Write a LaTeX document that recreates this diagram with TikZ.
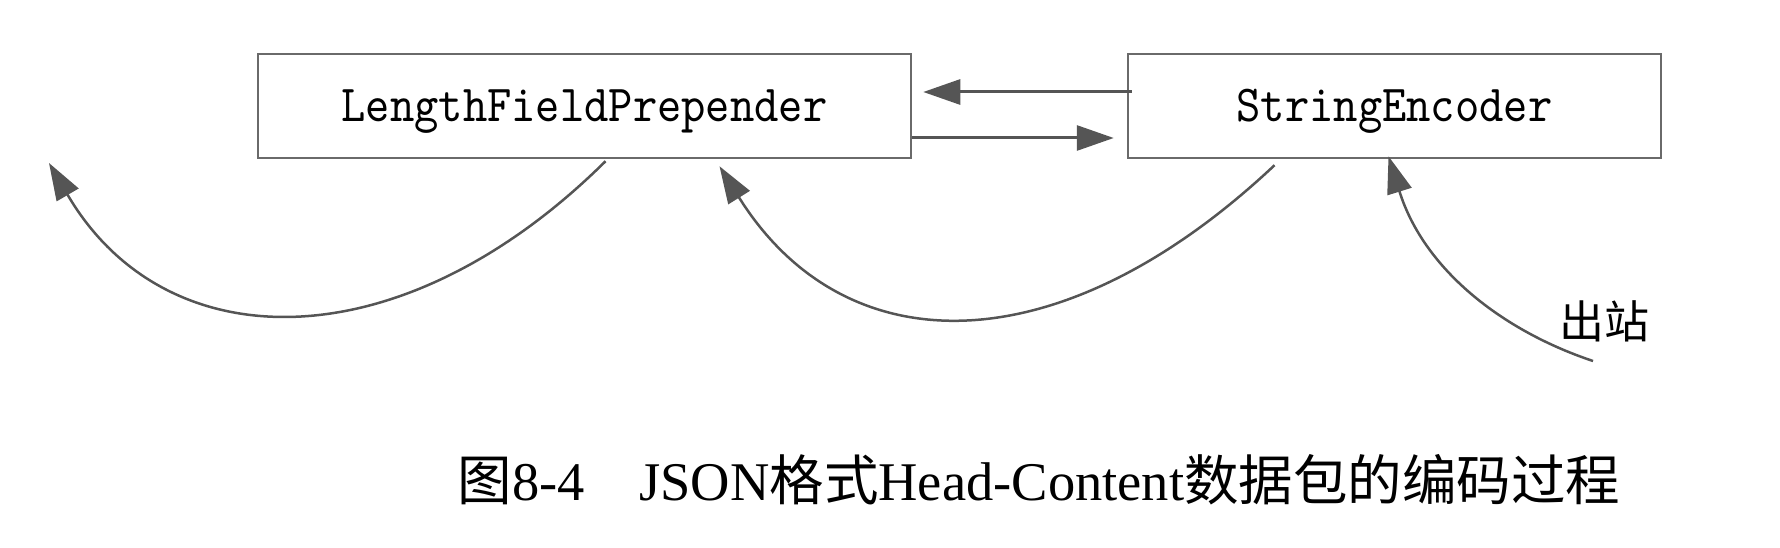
\documentclass[tikz,border=0pt]{standalone}
\usepackage{fontspec}
\setmainfont{Liberation Serif}
\setmonofont{lmmono10-regular.otf}[FakeStretch=0.89]
\newfontfamily\cjk{Noto Sans CJK SC}
\usetikzlibrary{positioning,arrows.meta}
\definecolor{boxgray}{HTML}{6A6A6A}
\definecolor{arrowgray}{HTML}{555555}
\tikzstyle{handler} = [draw=boxgray, line width=2.5pt, minimum height=104pt, inner sep=0pt, text height=36pt, text depth=4pt, font=\fontsize{52}{60}\selectfont\ttfamily]
\tikzstyle{flow} = [draw=arrowgray, line width=2.5pt, -{Triangle[length=37pt,width=25pt]}]

\begin{document}
\begin{tikzpicture}[x=1pt,y=-1pt]
			\useasboundingbox (0,0) rectangle (1780,548);
			\node[handler, minimum width=653pt] (lfp) at (584.5,106) {LengthFieldPrepender};
			\node[handler, minimum width=533pt] (se) at (1394.5,106) {StringEncoder};
			\node[anchor=base, font=\fontsize{45}{50}\selectfont\cjk] (outbound) at (1604,338) {出站};
			\node[anchor=base, font=\fontsize{54.5}{60}\selectfont] (caption) at (1039,500) {{\cjk 图}8-4\hspace{1em}JSON{\cjk 格式}Head-Content{\cjk 数据包的编码过程}};
			\coordinate (head) at (49,163);
			\coordinate (tail) at (1593,361);
			\draw[flow, line width=3pt] ([xshift=5pt,yshift=14pt]se.west) -- ([xshift=11pt,yshift=14pt]lfp.east);
			\draw[flow, line width=3pt] ([yshift=-32pt]lfp.east) -- ([xshift=-13pt,yshift=-32pt]se.west);
			\draw[flow] ([xshift=21pt,yshift=-2pt]lfp.south) .. controls (402,363) and (166,363) .. (head);
			\draw[flow] ([xshift=-120pt,yshift=-6pt]se.south) .. controls (1060,367) and (845,367) .. ([xshift=135pt,yshift=-7pt]lfp.south);
			\draw[flow] (tail) .. controls (1503,331) and (1424,270) .. ([xshift=-6pt,yshift=3pt]se.south);
		\end{tikzpicture}
\end{document}
